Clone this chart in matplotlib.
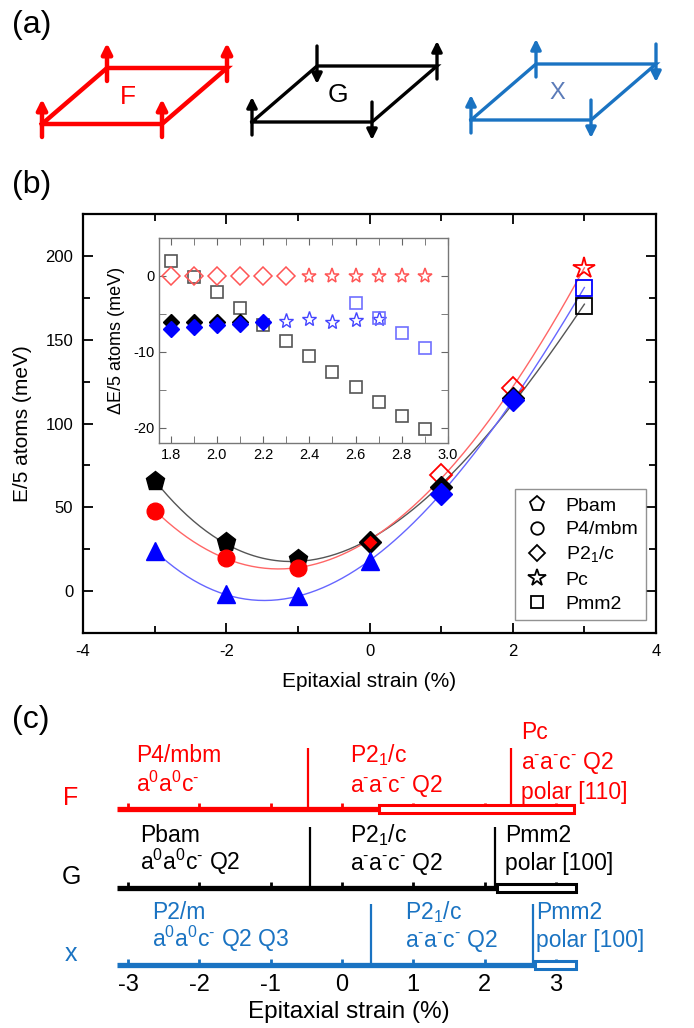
import numpy as np
import matplotlib
matplotlib.use('Agg')
import matplotlib.pyplot as plt
from matplotlib.patches import Rectangle
from matplotlib.lines import Line2D

plt.rcParams['font.family'] = ['Liberation Sans', 'DejaVu Sans']
plt.rcParams['axes.unicode_minus'] = False
plt.rcParams['mathtext.fontset'] = 'custom'
plt.rcParams['mathtext.rm'] = 'Liberation Sans'
C_FAMILY = ['Liberation Sans', 'DejaVu Sans']

# ---------------- data ----------------
# panel (b): energies vs epitaxial strain
strain = [-3, -2, -1, 0, 1, 2, 3]
E_F = [48, 20, 14, 29, 69, 121, 193]
E_G = [65.5, 29, 19, 29, 62, 115, 170]
E_X = [24, -2, -3, 18, 58, 114, 181]
phase_F = ['P4/mbm', 'P4/mbm', 'P4/mbm', 'P21/c', 'P21/c', 'P21/c', 'Pc']
phase_G = ['Pbam', 'Pbam', 'Pbam', 'P21/c', 'P21/c', 'P21/c', 'Pmm2']
phase_X = ['P2/m', 'P2/m', 'P2/m', 'P2/m', 'P21/c', 'P21/c', 'Pmm2']
filled_F = [1, 1, 1, 1, 0, 0, 0]
filled_G = [1, 1, 1, 1, 1, 1, 0]
filled_X = [1, 1, 1, 1, 1, 1, 0]

# inset: relative energies
ins_strain = [1.8, 1.9, 2.0, 2.1, 2.2, 2.3, 2.4, 2.5, 2.6, 2.7, 2.8, 2.9]
ins_F = [0, 0, 0, 0, 0, 0, 0, 0, 0, 0, 0, 0]
ins_F_phase = ['P21/c'] * 6 + ['Pc'] * 6
ins_G_diam_x = [1.8, 1.9, 2.0, 2.1]
ins_G_diam = [-6.1, -6.1, -6.1, -6.1]
ins_G_sq = [2.0, -0.1, -2.1, -4.2, -6.4, -8.5, -10.6, -12.6, -14.6, -16.6, -18.4, -20.2]
ins_X_diam_x = [1.8, 1.9, 2.0, 2.1, 2.2]
ins_X_diam = [-7.0, -6.7, -6.5, -6.3, -6.0]
ins_X_star_x = [2.3, 2.4, 2.5, 2.6, 2.7]
ins_X_star = [-5.9, -5.7, -6.1, -5.8, -5.7]
ins_X_sq_x = [2.6, 2.7, 2.8, 2.9]
ins_X_sq = [-3.6, -5.6, -7.5, -9.5]

# panel (c): phase diagrams
c_ticks = [-3, -2, -1, 0, 1, 2, 3]
c_rows = ['F', 'G', 'x']
c_start = -3.16
c_solid_end = [0.52, 2.18, 2.70]
c_end = [3.25, 3.28, 3.28]
c_bounds = [[-0.47, 2.37], [-0.45, 2.15], [0.41, 2.68]]
SUB1 = '$\\mathregular{_1}$'
SUP0 = '$\\mathregular{^0}$'
SUPM = '$\\mathregular{^{\\text{-}}}$'
a00 = 'a' + SUP0 + 'a' + SUP0 + 'c' + SUPM
amm = 'a' + SUPM + 'a' + SUPM + 'c' + SUPM + ' Q2'
c_names = [
    [['P4/mbm', a00], ['P2' + SUB1 + '/c', amm], ['Pc', amm, 'polar [110]']],
    [['Pbam', a00 + ' Q2'], ['P2' + SUB1 + '/c', amm], ['Pmm2', 'polar [100]']],
    [['P2/m', a00 + ' Q2 Q3'], ['P2' + SUB1 + '/c', amm], ['Pmm2', 'polar [100]']],
]

# panel (a): spin directions at corners (BL, BR, TR, TL), +1 up, -1 down
spins = {'F': [1, 1, 1, 1], 'G': [1, -1, 1, -1], 'X': [1, -1, -1, 1]}

RED = '#ff0000'
BLUE = '#1a73c2'
markers = {'P4/mbm': 'o', 'Pbam': 'p', 'P21/c': 'D', 'Pc': '*', 'Pmm2': 's', 'P2/m': '^'}
msize = {'o': 12, 'p': 14, 'D': 11, '*': 16, 's': 12, '^': 13}

W, H = 694, 1028
fig = plt.figure(figsize=(W / 100, H / 100), dpi=100)


def box(x0, y0, x1, y1):
    return [x0 / W, 1 - y1 / H, (x1 - x0) / W, (y1 - y0) / H]


# ---------------- panel (a) ----------------
ax_a = fig.add_axes(box(0, 0, W, 160))
ax_a.set_xlim(0, W)
ax_a.set_ylim(160, 0)
ax_a.axis('off')
cells = [('F', 42, 124, RED, 3.2, 19, RED),
         ('G', 252, 122, 'black', 2.4, 19, 'black'),
         ('X', 471, 120, BLUE, 2.4, 17, '#5b7bb8')]
cw, skew, ch = 120, 65, 56
for name, x0, y0, col, lw, fs, tcol in cells:
    xs = [x0, x0 + cw, x0 + cw + skew, x0 + skew, x0]
    ys = [y0, y0, y0 - ch, y0 - ch, y0]
    ax_a.plot(xs, ys, color=col, lw=lw, solid_joinstyle='miter')
    for vx, vy, d in zip(xs[:4], ys[:4], spins[name]):
        if d > 0:
            tail, tip = vy + 13, vy - 25
        else:
            tail, tip = vy - 20, vy + 18
        ax_a.annotate('', xy=(vx, tip), xytext=(vx, tail),
                      arrowprops=dict(arrowstyle='-|>', color=col, lw=lw,
                                      mutation_scale=15, shrinkA=0, shrinkB=0))
    ax_a.text(x0 + 0.5 * cw + 0.4 * skew, y0 - 0.48 * ch, name, color=tcol,
              fontsize=fs, ha='center', va='center')

fig.text(12 / W, 1 - 25 / H, '(a)', fontsize=23, va='center', ha='left')
fig.text(12 / W, 1 - 185 / H, '(b)', fontsize=23, va='center', ha='left')
fig.text(12 / W, 1 - 720 / H, '(c)', fontsize=23, va='center', ha='left')

# ---------------- panel (b) ----------------
ax = fig.add_axes(box(83, 214, 656, 633))
xx = np.linspace(-3, 3, 200)
for E, col in [(E_G, '#555555'), (E_F, '#ff6666'), (E_X, '#6666ff')]:
    p = np.polyfit(strain, E, 3)
    ax.plot(xx, np.polyval(p, xx), color=col, lw=1.0, zorder=2)

series = [(E_F, phase_F, filled_F, RED), (E_G, phase_G, filled_G, 'black'),
          (E_X, phase_X, filled_X, 'blue')]
for E, ph, fl, col in series:
    for x, y, p_, f in zip(strain, E, ph, fl):
        m = markers[p_]
        if f:
            ec = 'black' if (col == RED and m == 'D') else col
            z = 5 if col != 'black' else 4
            ms = msize[m] - 2 if ec != col else msize[m]
            ax.plot(x, y, m, ms=ms, mfc=col, mec=ec, mew=2.2 if ec != col else 1, zorder=z)
        else:
            ax.plot(x, y, m, ms=msize[m], mfc='none', mec=col, mew=1.3, zorder=3)

ax.set_xlim(-4, 4)
ax.set_ylim(-25, 225)
ax.set_xticks([-4, -2, 0, 2, 4])
ax.set_xticks([-3, -1, 1, 3], minor=True)
ax.set_yticks([0, 50, 100, 150, 200])
ax.set_yticks([-25, 25, 75, 125, 175, 225], minor=True)
ax.tick_params(which='both', direction='in', top=True, right=True, labelsize=12, width=1.3)
ax.tick_params(which='major', length=7)
ax.tick_params(which='minor', length=5)
ax.tick_params(axis='x', pad=8)
ax.tick_params(axis='y', pad=7)
for s in ax.spines.values():
    s.set_linewidth(1.6)
ax.set_xlabel('Epitaxial strain (%)', fontsize=15, labelpad=9)
ax.set_ylabel('E/5 atoms (meV)', fontsize=15, labelpad=10)

handles = [Line2D([], [], ls='none', marker=markers[k], ms=msize[markers[k]] - 3,
                  mfc='none', mec='black', mew=1.3)
           for k in ['Pbam', 'P4/mbm', 'P21/c', 'Pc', 'Pmm2']]
leg = ax.legend(handles, ['Pbam', 'P4/mbm', 'P2$_1$/c', 'Pc', 'Pmm2'],
                loc='lower right', bbox_to_anchor=(0.983, 0.03), fontsize=14,
                frameon=True, fancybox=False, handletextpad=0.8, labelspacing=0.32,
                borderpad=0.4, handlelength=1.4, borderaxespad=0)
leg.get_frame().set_edgecolor('#777777')
leg.get_frame().set_linewidth(1.0)

# inset
ins = fig.add_axes(box(159, 238, 448, 443))
ins.plot(ins_strain, ins_G_sq, 's', ms=8, mfc='none', mec='#555555', mew=1.2, zorder=2)
for x, y, p_ in zip(ins_strain, ins_F, ins_F_phase):
    m = markers[p_]
    ins.plot(x, y, m, ms=9 if m == 'D' else 11, mfc='none', mec='#ff5555', mew=1.1, zorder=3)
ins.plot(ins_G_diam_x, ins_G_diam, 'D', ms=8, mfc='black', mec='black', zorder=3)
ins.plot(ins_X_diam_x, ins_X_diam, 'D', ms=8, mfc='blue', mec='blue', zorder=4)
ins.plot(ins_X_star_x, ins_X_star, '*', ms=11, mfc='none', mec='#4444ff', mew=1.0, zorder=3)
ins.plot(ins_X_sq_x, ins_X_sq, 's', ms=8, mfc='none', mec='#6f6fff', mew=1.2, zorder=3)
ins.set_xlim(1.75, 3.0)
ins.set_ylim(-22, 5)
ins.set_xticks([1.8, 2.0, 2.2, 2.4, 2.6, 2.8, 3.0])
ins.set_xticks([1.9, 2.1, 2.3, 2.5, 2.7, 2.9], minor=True)
ins.set_yticks([0, -10, -20])
ins.set_yticks([-5, -15], minor=True)
ins.tick_params(which='both', direction='in', top=True, right=True, labelsize=10.5,
                color='#666666')
ins.tick_params(which='major', length=5)
ins.tick_params(which='minor', length=5)
for s in ins.spines.values():
    s.set_color('#777777')
    s.set_linewidth(1.0)
ins.set_ylabel('ΔE/5 atoms (meV)', fontsize=13, labelpad=6)

# ---------------- panel (c) ----------------
axc = fig.add_axes(box(30, 715, 694, 1025))
u, x0c = 71.3, 342
axc.set_xlim((30 - x0c) / u, (694 - x0c) / u)
axc.set_ylim(-(1025 - 809) / 78, (809 - 715) / 78)
axc.axis('off')
row_cols = [RED, 'black', BLUE]
row_y = [0, -1.01, -2]
name_x = [[-2.89, 0.11, 2.51], [-2.83, 0.11, 2.29], [-2.66, 0.89, 2.72]]
name_base = [[0.60, 0.60, 0.90], [0.59, 0.59, 0.59], [0.59, 0.59, 0.59]]
line_step = [[0.385, 0.385, 0.385], [0.36, 0.36, 0.36], [0.36, 0.36, 0.36]]
for i, (r, col, y) in enumerate(zip(c_rows, row_cols, row_y)):
    axc.plot([c_start, c_solid_end[i]], [y, y], color=col, lw=3.8, solid_capstyle='butt', zorder=3)
    axc.add_patch(Rectangle((c_solid_end[i], y - 0.05), c_end[i] - c_solid_end[i], 0.1,
                            facecolor='white', edgecolor=col, lw=2.2, zorder=3))
    axc.vlines(c_ticks, y, y + 0.08, color=col, lw=2.0, zorder=2)
    axc.vlines(c_bounds[i], y, y + 0.78, color=col, lw=1.6, zorder=2)
    axc.text(-3.80, y + 0.14, r, color=col, fontsize=18, ha='center', va='center',
             family=C_FAMILY)
    for j, lines in enumerate(c_names[i]):
        for k, lab in enumerate(lines):
            axc.text(name_x[i][j], y + name_base[i][j] - k * line_step[i][j], lab,
                     color=col, fontsize=16.5, ha='left', va='baseline', family=C_FAMILY)
for t in c_ticks:
    axc.text(t, -2.26, str(t), fontsize=17, ha='center', va='center', family=C_FAMILY)
axc.text(0.09, -2.6, 'Epitaxial strain (%)', fontsize=17.5, ha='center', va='center',
         family=C_FAMILY)

fig.savefig('out.png', dpi=100)
